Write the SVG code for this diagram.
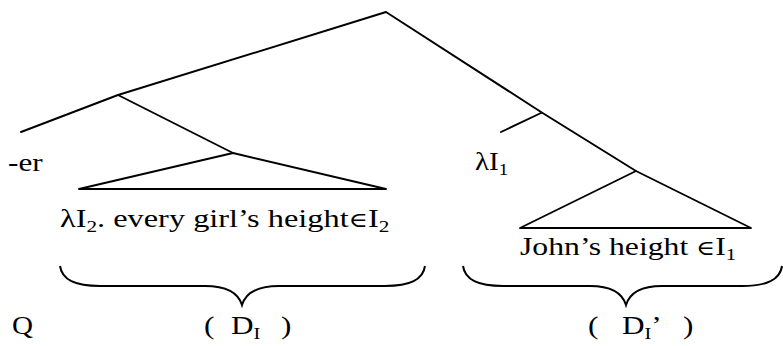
<svg xmlns="http://www.w3.org/2000/svg" width="783" height="346" viewBox="0 0 783 346">
<style>
.ln{stroke:#000;stroke-width:1.9;fill:none;stroke-linecap:round;stroke-linejoin:round}
.br{stroke:#000;stroke-width:2;fill:none}
.t{font-family:"Liberation Serif","DejaVu Serif",serif;font-size:26px;fill:#000}
.s{font-size:17px}
.el{font-family:"DejaVu Serif",serif;font-size:21px}
</style>
<rect width="783" height="346" fill="#fff"/>
<g id="connectors">
<polyline class="ln" points="21,132 118,95 386,12 541,112 636,171"/>
<line class="ln" x1="118" y1="95" x2="233" y2="153"/>
<line class="ln" x1="541" y1="113" x2="501" y2="132"/>
</g>
<g id="tri-left">
<polygon class="ln" points="233,153 79,189 386,189"/>
</g>
<g id="tri-right">
<polygon class="ln" points="636,171 520,228 751,228"/>
</g>
<g id="node-er"><text class="t" transform="translate(8,171) scale(1.2,1)">-er</text></g>
<g id="node-lambda1"><text class="t" transform="translate(475,170) scale(1.12,1)">λI<tspan class="s" dy="5">1</tspan></text></g>
<g id="node-left-text"><text class="t" transform="translate(60,227) scale(1.245,1)">λI<tspan class="s" dy="5">2</tspan><tspan dy="-5">. every girl’s height</tspan><tspan class="el">∈</tspan><tspan>I</tspan><tspan class="s" dy="5">2</tspan></text></g>
<g id="node-right-text"><text class="t" transform="translate(520,255) scale(1.22,1)">John’s height <tspan class="el">∈</tspan><tspan>I</tspan><tspan class="s" dy="5">1</tspan></text></g>
<g id="node-Q"><text class="t" transform="translate(12,334) scale(1.12,1)">Q</text></g>
<g id="node-DI">
<text class="t" transform="translate(204,334) scale(1.2,1)">(</text>
<text class="t" transform="translate(231,334) scale(1.2,1)">D<tspan class="s" dy="5">I</tspan></text>
<text class="t" transform="translate(281,334) scale(1.2,1)">)</text>
</g>
<g id="node-DIprime">
<text class="t" transform="translate(588,334) scale(1.2,1)">(</text>
<text class="t" transform="translate(622,334) scale(1.2,1)">D<tspan class="s" dy="5">I</tspan><tspan dy="-5">’</tspan></text>
<text class="t" transform="translate(683,334) scale(1.2,1)">)</text>
</g>
<g id="brace-left">
<path class="br" d="M60,266 C62,280 75,286 100,286 L205,286 C225,286 238,292 242,305 C246,292 259,286 279,286 L385,286 C410,286 423,280 425,266"/>
</g>
<g id="brace-right">
<path class="br" d="M463,266 C465,280 478,286 503,286 L590,286 C610,286 622,292 626,305 C630,292 642,286 662,286 L742,286 C767,286 780,280 782,266"/>
</g>
</svg>
